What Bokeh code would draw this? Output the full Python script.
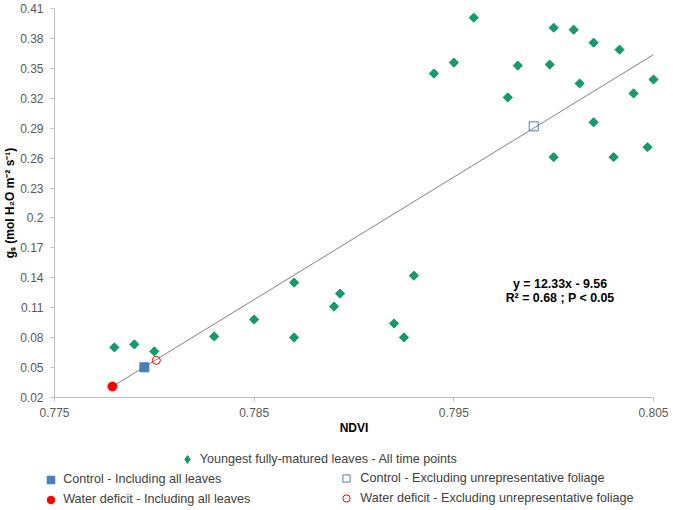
from bokeh.plotting import figure
from bokeh.models import Range1d, FixedTicker, Legend, LegendItem, Label
from bokeh.embed import file_html
from bokeh.resources import INLINE
import math

# ---------------- data ----------------
young_ndvi = [0.7780, 0.7790, 0.7800, 0.7830, 0.7850, 0.7870, 0.7870, 0.7890, 0.7893,
              0.7920, 0.7925, 0.7930,
              0.7940, 0.7950, 0.7960, 0.7977, 0.7982, 0.7998, 0.8000, 0.8000, 0.8010,
              0.8013, 0.8020, 0.8020, 0.8033, 0.8030, 0.8040, 0.8047, 0.8050]
young_gs = [0.070, 0.073, 0.066, 0.081, 0.098, 0.080, 0.135, 0.111, 0.124,
            0.094, 0.080, 0.142,
            0.345, 0.356, 0.401, 0.321, 0.353, 0.354, 0.391, 0.261, 0.389,
            0.335, 0.376, 0.296, 0.369, 0.261, 0.325, 0.271, 0.339]

ctrl_all_ndvi = [0.7795]
ctrl_all_gs = [0.050]
wd_all_ndvi = [0.7779]
wd_all_gs = [0.0307]
ctrl_excl_ndvi = [0.7990]
ctrl_excl_gs = [0.292]
wd_excl_ndvi = [0.7801]
wd_excl_gs = [0.057]

trend_ndvi = [0.7779, 0.8050]
trend_gs = [0.0307, 0.3640]

x_ticks = [0.775, 0.785, 0.795, 0.805]
x_tick_labels = ["0.775", "0.785", "0.795", "0.805"]
y_ticks = [0.02, 0.05, 0.08, 0.11, 0.14, 0.17, 0.2, 0.23, 0.26, 0.29, 0.32, 0.35, 0.38, 0.41]
y_tick_labels = ["0.02", "0.05", "0.08", "0.11", "0.14", "0.17", "0.2", "0.23", "0.26",
                 "0.29", "0.32", "0.35", "0.38", "0.41"]
x_min, x_max = 0.775, 0.805
y_min, y_max = 0.02, 0.41

x_title = "NDVI"
y_title = "gₛ (mol H₂O m⁻² s⁻¹)"
eq_line1 = "y = 12.33x - 9.56"
eq_line2 = "R² = 0.68 ; P < 0.05"
leg_young = "Youngest fully-matured leaves - All time points"
leg_ctrl_all = "Control - Including all leaves"
leg_wd_all = "Water deficit - Including all leaves"
leg_ctrl_excl = "Control - Excluding unrepresentative foliage"
leg_wd_excl = "Water deficit - Excluding unrepresentative foliage"

# ---------------- styles / layout ----------------
FONT = "Liberation Sans"
GREEN = "#16996C"
BLUE = "#4A7EBB"
RED = "#FF0000"
AXIS_GREY = "#BFBFBF"
TICK_TXT = "#595959"

W, H = 673, 510
# plot area (in canvas pixels): left, right, top, bottom
PL, PR, PT, PB = 54.0, 653.0, 8.3, 396.7
# The frame covers the whole canvas; both axes are pinned at the data minimum
# so that tick labels, titles and the legend (all outside the plot box) are drawn.
xppu = (PR - PL) / (x_max - x_min)
yppu = (PB - PT) / (y_max - y_min)
xr = Range1d(x_min - PL / xppu, x_max + (W - PR) / xppu)
yr = Range1d(y_min - (H - PB) / yppu, y_max + PT / yppu)

p = figure(width=W, height=H, output_backend="svg", toolbar_location=None,
           x_range=xr, y_range=yr, min_border=0)
p.outline_line_color = None
p.xgrid.visible = False
p.ygrid.visible = False
p.background_fill_color = "white"
p.border_fill_color = "white"

# axes
p.xaxis.fixed_location = y_min
p.yaxis.fixed_location = x_min
p.xaxis.bounds = (x_min, x_max)
p.yaxis.bounds = (y_min, y_max)
p.xaxis.ticker = FixedTicker(ticks=x_ticks)
p.xaxis.major_label_overrides = dict(zip(x_ticks, x_tick_labels))
p.yaxis.ticker = FixedTicker(ticks=y_ticks)
p.yaxis.major_label_overrides = dict(zip(y_ticks, y_tick_labels))
for ax in (p.xaxis, p.yaxis):
    ax.axis_line_color = AXIS_GREY
    ax.major_tick_line_color = AXIS_GREY
    ax.major_tick_out = 4
    ax.major_tick_in = 0
    ax.minor_tick_line_color = None
    ax.major_label_text_font = FONT
    ax.major_label_text_font_size = "12px"
    ax.major_label_text_color = TICK_TXT
    ax.axis_label_text_font = FONT
    ax.axis_label_text_font_size = "12px"
    ax.axis_label_text_font_style = "bold"
    ax.axis_label_text_color = "black"
p.xaxis.axis_label = x_title
p.yaxis.axis_label = y_title
p.xaxis.major_label_standoff = 7
p.yaxis.major_label_standoff = 7
p.xaxis.axis_label_standoff = 0
p.yaxis.axis_label_standoff = 0

# trend line
p.line(trend_ndvi, trend_gs, line_color="#808080", line_width=1)

# markers
r_young = p.scatter(young_ndvi, young_gs, marker="square", size=6.5, angle=math.pi / 4,
                    fill_color=GREEN, line_color=GREEN)
r_ctrl_all = p.scatter(ctrl_all_ndvi, ctrl_all_gs, marker="square", size=9,
                       fill_color=BLUE, line_color=BLUE)
r_wd_all = p.scatter(wd_all_ndvi, wd_all_gs, marker="circle", size=9,
                     fill_color=RED, line_color=RED)
r_ctrl_excl = p.scatter(ctrl_excl_ndvi, ctrl_excl_gs, marker="square", size=9,
                        fill_color="white", fill_alpha=0, line_color=BLUE, line_width=1)
r_wd_excl = p.scatter(wd_excl_ndvi, wd_excl_gs, marker="circle", size=8,
                      fill_color="white", fill_alpha=0, line_color=RED, line_width=1)
# legend swatch for the diamonds (legend swatches ignore marker rotation)
r_young_key = p.scatter([float("nan")], [float("nan")], marker="diamond",
                        fill_color=GREEN, line_color=GREEN)

# equation text
p.add_layout(Label(x=0.80032, y=0.1338, text=eq_line1, text_align="center",
                   text_baseline="middle", text_font=FONT, text_font_size="12.4px",
                   text_font_style="bold", text_color="black"))
p.add_layout(Label(x=0.80032, y=0.1194, text=eq_line2, text_align="center",
                   text_baseline="middle", text_font=FONT, text_font_size="12.4px",
                   text_font_style="bold", text_color="black"))


def make_legend(items, loc, glyph, standoff, spacing):
    lg = Legend(items=items, location=loc, orientation="vertical",
                glyph_width=glyph, glyph_height=glyph, label_height=glyph,
                label_standoff=standoff, spacing=spacing, padding=0, margin=0,
                border_line_color=None, background_fill_alpha=0,
                label_text_font=FONT, label_text_font_size="12.6px",
                label_text_color="#404040")
    p.add_layout(lg, "center")
    return lg


make_legend([LegendItem(label=leg_young, renderers=[r_young_key])], (176.7, 40.7), 20, 3, 0)
make_legend([LegendItem(label=leg_ctrl_all, renderers=[r_ctrl_all]),
             LegendItem(label=leg_wd_all, renderers=[r_wd_all])], (41.2, 1.2), 19, 3, 1)
make_legend([LegendItem(label=leg_ctrl_excl, renderers=[r_ctrl_excl]),
             LegendItem(label=leg_wd_excl, renderers=[r_wd_excl])], (337.3, 2.7), 18, 5, 2)

open("out.html", "w").write(file_html(p, INLINE))
